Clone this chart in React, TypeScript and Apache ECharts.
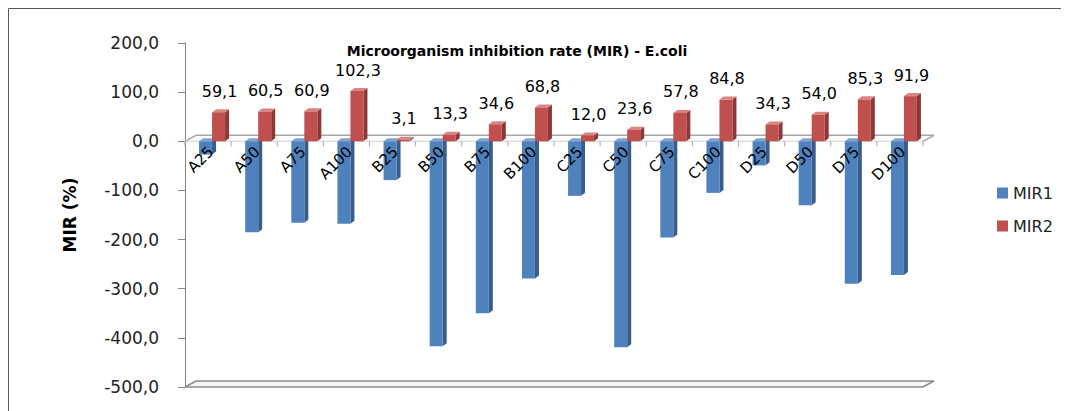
import React, { useEffect, useRef } from "react";
import * as echarts from "echarts";

const categories = [
  "A25", "A50", "A75", "A100", "B25", "B50", "B75", "B100",
  "C25", "C50", "C75", "C100", "D25", "D50", "D75", "D100",
];
const mir1 = [-27, -185, -166, -168, -79, -417, -350, -279, -111, -419, -196, -105, -49, -130, -290, -272];
const mir2 = [59.1, 60.5, 60.9, 102.3, 3.1, 13.3, 34.6, 68.8, 12.0, 23.6, 57.8, 84.8, 34.3, 54.0, 85.3, 91.9];
const yMin = -500;
const yMax = 200;
const yStep = 100;

const FONT = "DejaVu Sans";
const AXIS_GREY = "#a6a6a6";
const fmt = (v: number) => v.toFixed(1).replace(".", ",");

// Column with a shaded side and top face, giving the 3-D look.
function bar3d(left: number, right: number, face: string, side: string, top: string, withLabel: boolean) {
  return (_params: any, api: any) => {
    const i = api.value(0);
    const v = api.value(1);
    const base = api.coord([i, 0]);
    const end = api.coord([i, v]);
    const x0 = base[0] + left;
    const x1 = base[0] + right;
    const yHi = Math.min(base[1], end[1]);
    const yLo = Math.max(base[1], end[1]);
    const dx = 4;
    const dy = -3;
    const children: any[] = [
      {
        type: "polygon",
        shape: { points: [[x1, yHi], [x1 + dx, yHi + dy], [x1 + dx, yLo + dy], [x1, yLo]] },
        style: { fill: side },
      },
      {
        type: "polygon",
        shape: { points: [[x0, yHi], [x0 + dx, yHi + dy], [x1 + dx, yHi + dy], [x1, yHi]] },
        style: { fill: top },
      },
      {
        type: "rect",
        shape: { x: x0, y: yHi, width: x1 - x0, height: Math.max(yLo - yHi, 0.5) },
        style: { fill: face },
      },
    ];
    if (withLabel) {
      children.push({
        type: "text",
        x: (x0 + x1 + dx) / 2 - 1,
        y: yHi - 13,
        style: {
          text: fmt(v),
          fill: "#000",
          font: `16px "${FONT}"`,
          align: "center",
          verticalAlign: "bottom",
        },
      });
    }
    return { type: "group", children };
  };
}

// Floor slab and the zero plane (front edge plus its receding back edge).
function planes(params: any, api: any) {
  const cs = params.coordSys;
  const zero = api.coord([0, 0])[1];
  const bottom = cs.y + cs.height;
  const dx = 11;
  const dy = -6;
  return {
    type: "group",
    children: [
      {
        type: "polygon",
        shape: {
          points: [[cs.x, bottom], [cs.x + dx, bottom + dy], [cs.x + cs.width + dx, bottom + dy], [cs.x + cs.width, bottom]],
        },
        style: { fill: "#f7f7f7", stroke: "#8c8c8c", lineWidth: 1.5 },
      },
      {
        type: "polyline",
        shape: {
          points: [[cs.x, zero], [cs.x + dx, zero + dy], [cs.x + cs.width + dx, zero + dy], [cs.x + cs.width, zero]],
        },
        style: { fill: "none", stroke: AXIS_GREY, lineWidth: 1.5 },
      },
      {
        type: "line",
        shape: { x1: cs.x, y1: zero, x2: cs.x + cs.width, y2: zero },
        style: { stroke: "#d0d0d0", lineWidth: 1 },
      },
    ],
  };
}

// Category ticks and rotated names, hung from the zero line.
function categoryAxis(_params: any, api: any) {
  const i = api.value(0);
  const p = api.coord([i, 0]);
  const band = api.size([1, 0])[0];
  const left = p[0] - band / 2;
  const children: any[] = [
    {
      type: "line",
      shape: { x1: left, y1: p[1], x2: left, y2: p[1] + 5 },
      style: { stroke: AXIS_GREY, lineWidth: 1 },
    },
    {
      type: "text",
      x: p[0] + 3,
      y: p[1] + 8,
      rotation: Math.PI / 4,
      style: {
        text: categories[i],
        fill: "#000",
        font: `15px "${FONT}"`,
        align: "right",
        verticalAlign: "middle",
      },
    },
  ];
  if (i === categories.length - 1) {
    children.push({
      type: "line",
      shape: { x1: left + band, y1: p[1], x2: left + band, y2: p[1] + 5 },
      style: { stroke: AXIS_GREY, lineWidth: 1 },
    });
  }
  return { type: "group", children };
}

export default function App() {
  const ref = useRef<HTMLDivElement>(null);

  useEffect(() => {
    if (!ref.current) return;
    const chart = echarts.init(ref.current, undefined, { renderer: "svg" });
    chart.setOption({
      animation: false,
      textStyle: { fontFamily: FONT },
      graphic: [
        {
          type: "rect",
          shape: { x: 0.5, y: 0.5, width: 1053, height: 600 },
          style: { fill: "none", stroke: "#5a5a5a", lineWidth: 1 },
          silent: true,
        },
        {
          type: "text",
          x: 509,
          y: 43,
          style: {
            text: "Microorganism inhibition rate (MIR) - E.coli",
            font: `bold 14px "${FONT}"`,
            fill: "#000",
            align: "center",
            verticalAlign: "middle",
          },
        },
      ],
      legend: {
        data: ["MIR1", "MIR2"],
        orient: "vertical",
        left: 984,
        top: 172,
        icon: "rect",
        itemWidth: 11,
        itemHeight: 11,
        itemGap: 17,
        textStyle: { fontFamily: FONT, fontSize: 16, color: "#222" },
      },
      grid: { left: 177, top: 35, width: 738, height: 344, outerBoundsMode: "none", containLabel: false },
      xAxis: {
        type: "category",
        data: categories,
        axisLine: { show: false },
        axisTick: { show: false },
        axisLabel: { show: false },
        splitLine: { show: false },
      },
      yAxis: {
        type: "value",
        min: yMin,
        max: yMax,
        interval: yStep,
        name: "MIR (%)",
        nameLocation: "middle",
        nameGap: 107,
        nameTextStyle: { fontFamily: FONT, fontSize: 17, fontWeight: "bold", color: "#000" },
        axisLine: { show: true, lineStyle: { color: "#868686" } },
        axisTick: { show: true, length: 7, lineStyle: { color: "#868686" } },
        axisLabel: {
          formatter: (v: number) => fmt(v),
          margin: 26,
          fontFamily: FONT,
          fontSize: 17,
          color: "#222",
        },
        splitLine: { show: false },
      },
      series: [
        {
          type: "custom",
          name: "planes",
          silent: true,
          z: 1,
          renderItem: planes,
          data: [[0, 0]],
          encode: { x: 0, y: 1 },
        },
        {
          type: "custom",
          name: "MIR1",
          z: 3,
          itemStyle: { color: "#4F81BD" },
          renderItem: bar3d(-9, 4, "#4F81BD", "#385D8A", "#7EA3D1", false),
          data: mir1.map((v, i) => [i, v]),
          encode: { x: 0, y: 1 },
        },
        {
          type: "custom",
          name: "MIR2",
          z: 3,
          itemStyle: { color: "#C0504D" },
          renderItem: bar3d(4, 17, "#C0504D", "#8C3836", "#D98683", true),
          data: mir2.map((v, i) => [i, v]),
          encode: { x: 0, y: 1 },
        },
        {
          type: "custom",
          name: "categories",
          silent: true,
          z: 5,
          renderItem: categoryAxis,
          data: categories.map((_c, i) => [i, 0]),
          encode: { x: 0, y: 1 },
        },
      ],
    });
    return () => chart.dispose();
  }, []);

  return <div ref={ref} style={{ width: 1054, height: 403 }} />;
}
